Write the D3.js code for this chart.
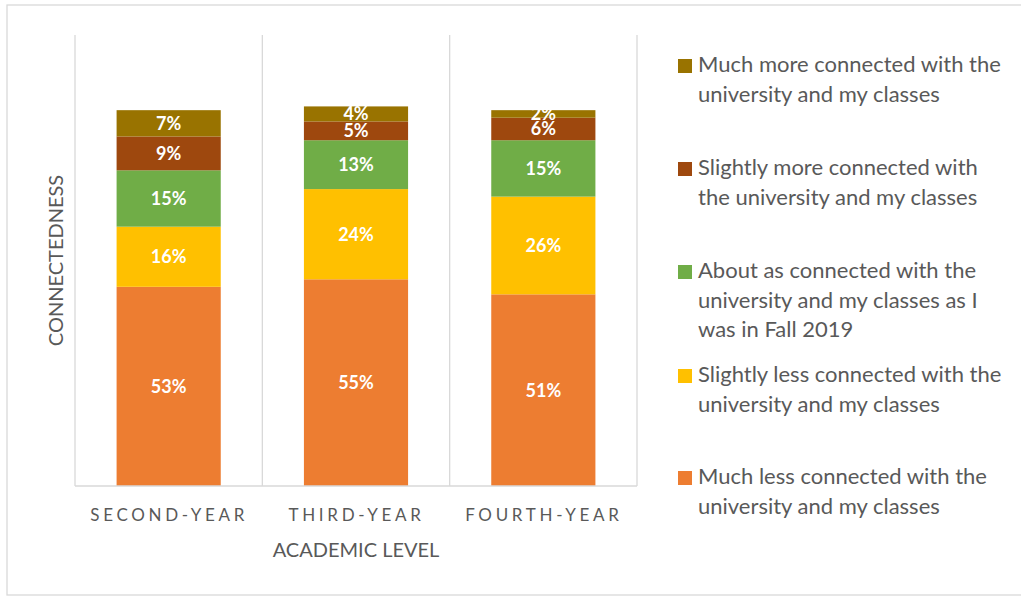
<!DOCTYPE html>
<html><head><meta charset="utf-8">
<script src="https://cdn.jsdelivr.net/npm/d3@7"></script>
<style>body{margin:0;background:#fff}svg{display:block}</style>
</head><body>
<svg id="chart" width="1021" height="596"></svg>
<script>
const categories = ["SECOND-YEAR", "THIRD-YEAR", "FOURTH-YEAR"];
const seriesNames = [
  "Much less connected with the university and my classes",
  "Slightly less connected with the university and my classes",
  "About as connected with the university and my classes as I was in Fall 2019",
  "Slightly more connected with the university and my classes",
  "Much more connected with the university and my classes"
];
const muchLess     = [53, 55, 51];
const slightlyLess = [16, 24, 26];
const aboutSame    = [15, 13, 15];
const slightlyMore = [9, 5, 6];
const muchMore     = [7, 4, 2];
const colors = ["#ED7D31", "#FFC000", "#70AD47", "#9E480E", "#997300"];
const legendLines = [
  ["Much more connected with the", "university and my classes"],
  ["Slightly more connected with", "the university and my classes"],
  ["About as connected with the", "university and my classes as I", "was in Fall 2019"],
  ["Slightly less connected with the", "university and my classes"],
  ["Much less connected with the", "university and my classes"]
];
const legendOrder = [4, 3, 2, 1, 0];
const yMax = 120;

const series = [muchLess, slightlyLess, aboutSame, slightlyMore, muchMore];
const svg = d3.select("#chart");
const font = "Lato, 'Open Sans', sans-serif";
const textColor = "#595959";

svg.append("rect").attr("x", 7).attr("y", 5).attr("width", 1030).attr("height", 590)
  .attr("fill", "#fff").attr("stroke", "#d9d9d9").attr("stroke-width", 1.3);

const plot = {left: 75, right: 637, top: 35, bottom: 486};
const x = d3.scaleBand().domain(categories).range([plot.left, plot.right]).padding(0);
const y = d3.scaleLinear().domain([0, yMax]).range([plot.bottom, plot.top]);

// category separator gridlines
const bounds = categories.map(c => x(c)).concat([plot.right]);
svg.append("g").selectAll("line").data(bounds).join("line")
  .attr("x1", d => d).attr("x2", d => d).attr("y1", plot.top).attr("y2", plot.bottom)
  .attr("stroke", "#d9d9d9").attr("stroke-width", 1.3);

// stacked data
const rows = categories.map((c, i) => {
  const o = {cat: c};
  series.forEach((s, k) => o["s" + k] = s[i]);
  return o;
});
const stack = d3.stack().keys(series.map((s, k) => "s" + k));
const stacked = stack(rows);
const barFrac = 0.556;
const bw = x.bandwidth() * barFrac;

const g = svg.append("g");
stacked.forEach((layer, k) => {
  g.selectAll(null).data(layer).join("rect")
    .attr("x", d => x(d.data.cat) + (x.bandwidth() - bw) / 2)
    .attr("y", d => y(d[1]))
    .attr("width", bw)
    .attr("height", d => y(d[0]) - y(d[1]))
    .attr("fill", colors[k]);
});
stacked.forEach((layer, k) => {
  g.selectAll(null).data(layer).join("text")
    .attr("x", d => x(d.data.cat) + x.bandwidth() / 2)
    .attr("y", d => (y(d[0]) + y(d[1])) / 2)
    .attr("dy", "0.36em")
    .attr("text-anchor", "middle")
    .attr("font-family", font).attr("font-weight", "bold").attr("font-size", 18)
    .attr("fill", "#fff")
    .text(d => (d[1] - d[0]) + "%");
});

// x axis baseline
svg.append("line").attr("x1", plot.left).attr("x2", plot.right)
  .attr("y1", plot.bottom).attr("y2", plot.bottom)
  .attr("stroke", "#d9d9d9").attr("stroke-width", 1.3);

// category labels
const xAxis = d3.axisBottom(x).tickSize(0).tickPadding(0);
const ax = svg.append("g").attr("transform", `translate(0,${plot.bottom})`).call(xAxis);
ax.select(".domain").remove();
ax.selectAll("text")
  .attr("y", 35).attr("dy", 0)
  .attr("font-family", font).attr("font-size", 17)
  .attr("fill", textColor).attr("letter-spacing", "3.7px")
  .attr("text-anchor", "middle")
  .attr("dx", "0.5px");

// axis titles
svg.append("text").attr("x", (plot.left + plot.right) / 2).attr("y", 557)
  .attr("text-anchor", "middle").attr("font-family", font).attr("font-size", 20)
  .attr("fill", textColor).text("ACADEMIC LEVEL");
svg.append("text")
  .attr("transform", `translate(63,${(plot.top + plot.bottom) / 2}) rotate(-90)`)
  .attr("text-anchor", "middle").attr("font-family", font).attr("font-size", 20)
  .attr("fill", textColor).text("CONNECTEDNESS");

// legend
const legendY = [72, 175, 278, 382, 484];
const leg = svg.append("g");
legendOrder.forEach((k, i) => {
  const gy = legendY[i];
  leg.append("rect").attr("x", 678).attr("y", gy - 13).attr("width", 14).attr("height", 14)
    .attr("fill", colors[k]);
  const t = leg.append("text").attr("font-family", font).attr("font-size", 22)
    .attr("fill", textColor);
  legendLines[i].forEach((ln, j) => {
    t.append("tspan").attr("x", 698).attr("y", gy + j * 29.5).text(ln);
  });
});
</script>
</body></html>
